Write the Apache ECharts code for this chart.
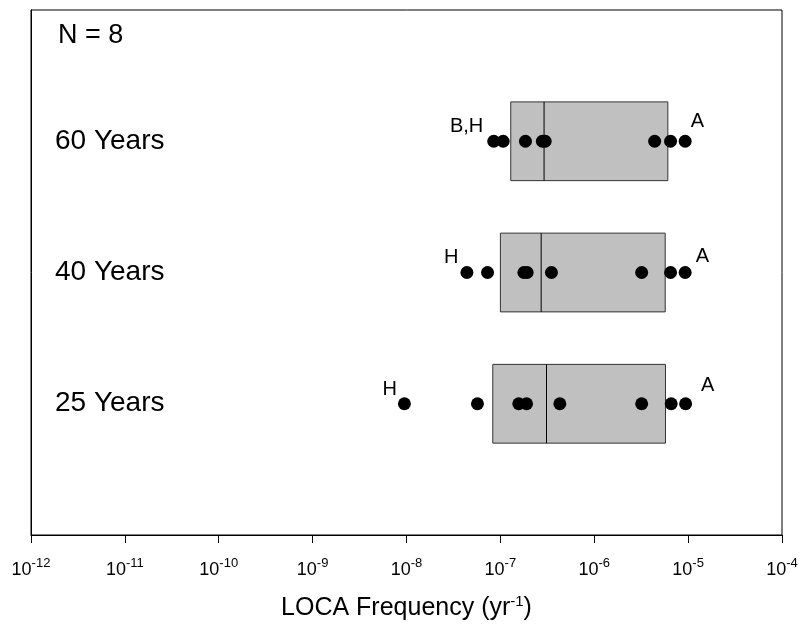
<!DOCTYPE html>
<html>
<head>
<meta charset="utf-8">
<script src="https://cdn.jsdelivr.net/npm/echarts@6/dist/echarts.min.js"></script>
<style>
  html, body { margin: 0; padding: 0; background: #fff; }
  #main { width: 804px; height: 631px; }
</style>
</head>
<body>
<div id="main"></div>
<script>
// rows (y positions 1..3 on a hidden value axis)
var rowNames = ['25 Years', '40 Years', '60 Years'];
var rowPos = [1, 2, 3];

// individual plant values, yr^-1
var pts25 = [9.5e-9, 5.7e-8, 1.57e-7, 1.9e-7, 4.3e-7, 3.2e-6, 6.6e-6, 9.4e-6];
var pts40 = [4.4e-8, 7.3e-8, 1.78e-7, 1.93e-7, 3.5e-7, 3.2e-6, 6.5e-6, 9.3e-6];
var pts60 = [8.5e-8, 1.07e-7, 1.85e-7, 2.8e-7, 3.0e-7, 4.4e-6, 6.5e-6, 9.3e-6];

// box: 25th pct, median, 75th pct
var boxLow = [8.3e-8, 1.0e-7, 1.29e-7];
var boxMed = [3.1e-7, 2.72e-7, 2.92e-7];
var boxHigh = [5.74e-6, 5.7e-6, 6.08e-6];

// point tags: [row index, point index, text]
var tags = [
  [0, 0, 'H'], [0, 7, 'A'],
  [1, 0, 'H'], [1, 7, 'A'],
  [2, 0, 'B,H'], [2, 7, 'A']
];
// where each tag sits next to its point (pixels)
var tagStyle = [
  { position: 'left', offset: [4, -14] }, { position: 'right', offset: [4, -18] },
  { position: 'left', offset: [3, -15] }, { position: 'right', offset: [-1, -16] },
  { position: 'left', offset: [1, -15] }, { position: 'right', offset: [-6, -20] }
];

var FONT = 'Liberation Sans, Arial, sans-serif';

var allPts = [pts25, pts40, pts60];
var scatterData = [];
for (var r = 0; r < allPts.length; r++) {
  for (var i = 0; i < allPts[r].length; i++) {
    var item = { value: [allPts[r][i], rowPos[r]] };
    for (var t = 0; t < tags.length; t++) {
      if (tags[t][0] === r && tags[t][1] === i) {
        item.label = {
          show: true,
          formatter: tags[t][2],
          position: tagStyle[t].position,
          offset: tagStyle[t].offset,
          color: '#000',
          fontSize: 20,
          fontFamily: FONT
        };
      }
    }
    scatterData.push(item);
  }
}

var boxData = [];
for (var b = 0; b < rowPos.length; b++) {
  boxData.push([boxLow[b], boxMed[b], boxHigh[b], rowPos[b]]);
}

var option = {
  animation: false,
  backgroundColor: '#fff',
  title: {
    text: 'N = 8',
    left: 53,
    top: 17,
    textStyle: { fontSize: 27, fontWeight: 'normal', color: '#000', fontFamily: FONT }
  },
  grid: {
    left: 31, right: 22, top: 10, bottom: 96,
    show: true, borderColor: '#000', borderWidth: 1
  },
  xAxis: {
    type: 'log',
    logBase: 10,
    min: 1e-12,
    max: 1e-4,
    name: '{b|LOCA Frequency (yr}{s|-1}{b|)}',
    nameLocation: 'middle',
    nameGap: 59,
    nameTextStyle: {
      rich: {
        b: { fontSize: 25, color: '#000', fontFamily: FONT },
        s: { fontSize: 15, color: '#000', fontFamily: FONT, padding: [0, 0, 13, 0] }
      }
    },
    splitLine: { show: false },
    minorTick: { show: false },
    axisLine: { lineStyle: { color: '#000', width: 1 } },
    axisTick: { length: 8, lineStyle: { color: '#000' } },
    axisLabel: {
      margin: 22,
      formatter: function (v) {
        var e = Math.round(Math.log10(v));
        return '{b|10}{s|' + e + '}';
      },
      rich: {
        b: { fontSize: 18, color: '#000', fontFamily: FONT },
        s: { fontSize: 13, color: '#000', fontFamily: FONT, padding: [0, 0, 13, 0] }
      }
    }
  },
  yAxis: {
    type: 'value',
    min: 0,
    max: 4,
    interval: 1,
    splitLine: { show: false },
    axisLine: { show: true, lineStyle: { color: '#000' } },
    axisTick: { show: false },
    axisLabel: {
      inside: true,
      margin: 24,
      color: '#000',
      fontSize: 28,
      fontFamily: FONT,
      formatter: function (v) {
        var k = rowPos.indexOf(v);
        return k >= 0 ? rowNames[k] : '';
      }
    }
  },
  series: [
    {
      type: 'custom',
      data: boxData,
      z: 2,
      renderItem: function (params, api) {
        var lo = api.coord([api.value(0), api.value(3) + 0.3]);
        var md = api.coord([api.value(1), api.value(3) + 0.3]);
        var hi = api.coord([api.value(2), api.value(3) - 0.3]);
        return {
          type: 'group',
          children: [
            {
              type: 'rect',
              shape: { x: lo[0], y: lo[1], width: hi[0] - lo[0], height: hi[1] - lo[1] },
              style: { fill: '#c0c0c0', stroke: '#333', lineWidth: 1 }
            },
            {
              type: 'line',
              shape: { x1: md[0], y1: md[1], x2: md[0], y2: hi[1] },
              style: { stroke: '#000', lineWidth: 1 }
            }
          ]
        };
      }
    },
    {
      type: 'scatter',
      data: scatterData,
      symbol: 'circle',
      symbolSize: 13,
      z: 3,
      itemStyle: { color: '#000', opacity: 1 }
    }
  ]
};

echarts.init(document.getElementById('main')).setOption(option);
</script>
</body>
</html>
